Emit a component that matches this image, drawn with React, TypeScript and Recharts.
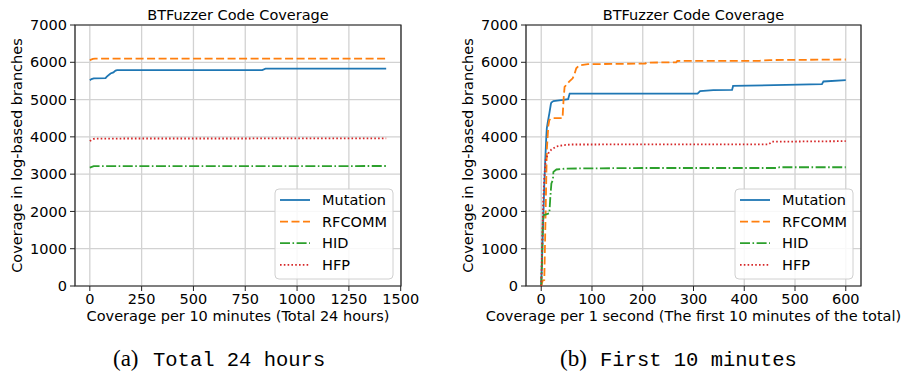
import React from "react";
import { CartesianGrid, Line, LineChart, ReferenceArea, XAxis, YAxis } from "recharts";

const FONT = "'DejaVu Sans', sans-serif";

const seriesNames = ["Mutation", "RFCOMM", "HID", "HFP"];
const seriesColors = ["#1f77b4", "#ff7f0e", "#2ca02c", "#d62728"];
const seriesDashes = [undefined, "8 3.5", "10 2.5 1.6 2.5", "1.6 2.2"];

const yTicks = [0, 1000, 2000, 3000, 4000, 5000, 6000, 7000];
const dayTicks = [0, 250, 500, 750, 1000, 1250, 1500];
const minuteTicks = [0, 100, 200, 300, 400, 500, 600];

// (a) total 24 hours: [step, branches]
const dayMutation = [
  [0, 5520], [8, 5550], [19, 5570], [76, 5575], [82, 5615], [100, 5700],
  [114, 5730], [124, 5775], [132, 5790], [832, 5792], [848, 5828], [1430, 5830],
];
const dayRfcomm = [[0, 6060], [15, 6090], [25, 6100], [1430, 6100]];
const dayHid = [[0, 3175], [19, 3215], [1430, 3218]];
const dayHfp = [[0, 3890], [19, 3945], [30, 3955], [1430, 3958]];

// (b) first 10 minutes: [second, branches]
const minMutation = [
  [0, 0], [2, 900], [4, 1800], [6, 2700], [8, 3400], [10, 4000], [11, 4230],
  [13, 4400], [16, 4630], [19, 4880], [20, 4920], [24, 4960], [43, 4990],
  [53, 5010], [56, 5160], [308, 5160], [313, 5225], [339, 5255], [376, 5260],
  [378, 5365], [553, 5415], [556, 5485], [600, 5520],
];
const minRfcomm = [
  [0, 0], [3, 150], [6, 160], [8, 1500], [11, 3650], [14, 4300], [16, 4450],
  [20, 4500], [42, 4500], [44, 5000], [46, 5340], [55, 5480], [62, 5570],
  [66, 5700], [69, 5840], [75, 5920], [92, 5950], [205, 5965], [208, 5990],
  [266, 6000], [268, 6035], [430, 6040], [450, 6060], [600, 6075],
];
const minHid = [
  [0, 0], [2, 900], [3, 1700], [5, 1900], [16, 1950], [18, 2400], [20, 2750],
  [23, 2850], [24, 3060], [30, 3125], [50, 3150], [200, 3165], [465, 3165],
  [470, 3185], [600, 3185],
];
const minHfp = [
  [0, 0], [2, 1200], [4, 2300], [6, 2900], [9, 3400], [14, 3560], [20, 3660],
  [30, 3740], [45, 3780], [60, 3795], [448, 3800], [455, 3870], [600, 3885],
];

const toPoints = (rows: number[][]) => rows.map(([x, y]) => ({ x, y }));

const PLOT_TOP = 25;
const PLOT_BOTTOM = 286;

function CoveragePanel({ left, width, yWidth, marginRight, xDomain, xTicks, series }: any) {
  return (
    <div style={{ position: "absolute", left, top: 0 }}>
      <LineChart
        width={width}
        height={330}
        margin={{ top: PLOT_TOP, right: marginRight, bottom: 0, left: 0 }}
      >
        <CartesianGrid stroke="#d2d2d2" strokeWidth={1.3} />
        <XAxis
          type="number"
          dataKey="x"
          domain={xDomain}
          ticks={xTicks}
          interval={0}
          allowDataOverflow
          height={330 - PLOT_BOTTOM}
          axisLine={false}
          tickSize={5}
          tickMargin={3}
          tickLine={{ stroke: "#222" }}
          tick={{ fill: "#000", fontSize: 14.5, fontFamily: FONT }}
        />
        <YAxis
          type="number"
          dataKey="y"
          domain={[0, 7000]}
          ticks={yTicks}
          interval={0}
          allowDataOverflow
          width={yWidth}
          axisLine={false}
          tickSize={5}
          tickMargin={3}
          tickLine={{ stroke: "#222" }}
          tick={{ fill: "#000", fontSize: 14.5, fontFamily: FONT }}
        />
        {series.map((rows: number[][], i: number) => (
          <Line
            key={seriesNames[i]}
            data={toPoints(rows)}
            dataKey="y"
            type="linear"
            stroke={seriesColors[i]}
            strokeWidth={1.8}
            strokeDasharray={seriesDashes[i]}
            dot={false}
            activeDot={false}
            isAnimationActive={false}
          />
        ))}
        <ReferenceArea
          x1={xDomain[0]}
          x2={xDomain[1]}
          y1={0}
          y2={7000}
          fill="none"
          fillOpacity={0}
          stroke="#222"
          strokeWidth={1.2}
          ifOverflow="visible"
        />
      </LineChart>
    </div>
  );
}

function LegendBox({ x }: { x: number }) {
  return (
    <g>
      <rect x={x} y={189} width={118} height={90} rx={4} fill="#fff" fillOpacity={0.85} stroke="#d0d0d0" />
      {seriesNames.map((name, i) => {
        const cy = 200 + i * 21.6;
        return (
          <g key={name}>
            <line x1={x + 5} x2={x + 35} y1={cy} y2={cy} stroke={seriesColors[i]} strokeWidth={1.8} strokeDasharray={seriesDashes[i]} />
            <text x={x + 47} y={cy + 5.2} fontSize={14.5} fontFamily={FONT} fill="#000">{name}</text>
          </g>
        );
      })}
    </g>
  );
}

function PanelText({ plotLeft, plotRight, xTitle }: any) {
  const cx = (plotLeft + plotRight) / 2;
  const cy = (PLOT_TOP + PLOT_BOTTOM) / 2;
  const yx = plotLeft - 53;
  return (
    <g fontFamily={FONT} fontSize={14.5} fill="#000">
      <text x={cx} y={19.5} textAnchor="middle">BTFuzzer Code Coverage</text>
      <text x={cx} y={321} textAnchor="middle">{xTitle}</text>
      <text x={yx} y={cy} textAnchor="middle" transform={`rotate(-90 ${yx} ${cy})`}>
        Coverage in log-based branches
      </text>
    </g>
  );
}

export default function App() {
  return (
    <div style={{ position: "fixed", left: 0, top: 0, width: 907, height: 376, background: "#fff" }}>
      <CoveragePanel
        left={0}
        width={454}
        yWidth={75}
        marginRight={53}
        xDomain={[-71.5, 1501.5]}
        xTicks={dayTicks}
        series={[dayMutation, dayRfcomm, dayHid, dayHfp]}
      />
      <CoveragePanel
        left={454}
        width={453}
        yWidth={72}
        marginRight={46}
        xDomain={[-30, 630]}
        xTicks={minuteTicks}
        series={[minMutation, minRfcomm, minHid, minHfp]}
      />
      <svg width={907} height={376} style={{ position: "absolute", left: 0, top: 0 }}>
        <PanelText plotLeft={75} plotRight={401} xTitle="Coverage per 10 minutes (Total 24 hours)" />
        <PanelText plotLeft={526} plotRight={861} xTitle="Coverage per 1 second (The first 10 minutes of the total)" />
        <LegendBox x={275} />
        <LegendBox x={735} />
        <g fill="#000">
          <text x={113} y={366} fontSize={23} fontFamily="'Liberation Serif', serif">(a)</text>
          <text x={153} y={366} fontSize={20.5} fontFamily="'Liberation Mono', monospace">Total 24 hours</text>
          <text x={560} y={366} fontSize={23} fontFamily="'Liberation Serif', serif">(b)</text>
          <text x={600} y={366} fontSize={20.5} fontFamily="'Liberation Mono', monospace">First 10 minutes</text>
        </g>
      </svg>
    </div>
  );
}
